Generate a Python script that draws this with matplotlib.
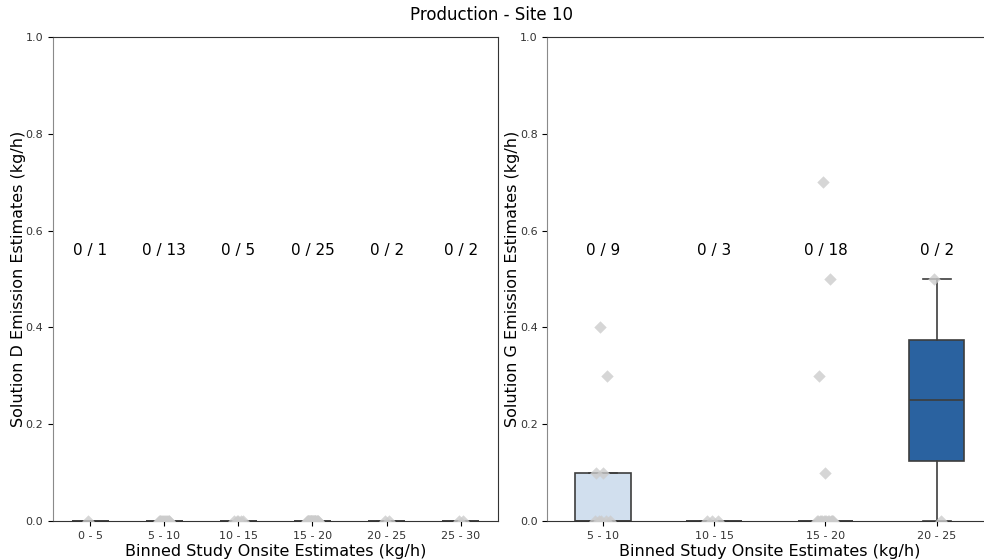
import numpy as np
import matplotlib
matplotlib.use("Agg")
from matplotlib import pyplot as plt

# data
title = "Production - Site 10"
x_label = "Binned Study Onsite Estimates (kg/h)"

d_bins = ["0 - 5", "5 - 10", "10 - 15", "15 - 20", "20 - 25", "25 - 30"]
d_values = [
    [0.0],
    [0.0] * 13,
    [0.0] * 5,
    [0.0] * 25,
    [0.0] * 2,
    [0.0] * 2,
]
d_labels = ["0 / 1", "0 / 13", "0 / 5", "0 / 25", "0 / 2", "0 / 2"]
d_colors = ["#d1dfee", "#b3cde3", "#8fb6d8", "#6a9ac8", "#4a80b8", "#2a62a0"]

g_bins = ["5 - 10", "10 - 15", "15 - 20", "20 - 25"]
g_values = [
    [0.4, 0.3, 0.1, 0.1, 0.0, 0.0, 0.0, 0.0, 0.0],
    [0.0, 0.0, 0.0],
    [0.7, 0.5, 0.3, 0.1] + [0.0] * 14,
    [0.5, 0.0],
]
g_labels = ["0 / 9", "0 / 3", "0 / 18", "0 / 2"]
g_colors = ["#d1dfee", "#9ebfdc", "#5b8cc0", "#2a62a0"]

EDGE = "#3d3d3d"


def draw_panel(ax, bins, values, labels, colors, ylabel):
    pos = np.arange(len(bins))
    bp = ax.boxplot(values, positions=pos, widths=0.5, patch_artist=True,
                    showfliers=False, whis=1.5,
                    boxprops=dict(edgecolor=EDGE, linewidth=1.2),
                    medianprops=dict(color=EDGE, linewidth=1.2),
                    whiskerprops=dict(color=EDGE, linewidth=1.2),
                    capprops=dict(color=EDGE, linewidth=1.2),
                    capwidths=0.25)
    for patch, c in zip(bp["boxes"], colors):
        patch.set_facecolor(c)

    # strip points with a fixed spread
    for i, vals in enumerate(values):
        n = len(vals)
        offs = ((np.arange(n) * 0.382 + 0.35) % 1 - 0.5) * 0.16
        ax.scatter(pos[i] + offs, vals, marker="D", s=40, color="#cccccc",
                   alpha=0.8, linewidths=0, zorder=3)
        ax.text(pos[i], 0.56, labels[i], ha="center", va="center", fontsize=11)

    ax.set_xlim(-0.5, len(bins) - 0.5)
    ax.set_ylim(0, 1.0)
    ax.set_xticks(pos)
    ax.set_xticklabels(bins, fontsize=8, color="#333333")
    ax.set_yticks([0, 0.2, 0.4, 0.6, 0.8, 1.0])
    ax.set_yticklabels(["0.0", "0.2", "0.4", "0.6", "0.8", "1.0"], fontsize=8,
                       color="#333333")
    ax.set_xlabel(x_label, fontsize=11.5, labelpad=2)
    ax.set_ylabel(ylabel, fontsize=11.5, labelpad=0)
    ax.spines["left"].set_color("#8a8a8a")
    for s in ["top", "right", "bottom"]:
        ax.spines[s].set_color("#333333")


fig = plt.figure(figsize=(9.84, 5.6), dpi=100)
ax1 = fig.add_axes([0.0539, 0.0696, 0.452, 0.864])
ax2 = fig.add_axes([0.5564, 0.0696, 0.452, 0.864])

draw_panel(ax1, d_bins, d_values, d_labels, d_colors,
           "Solution D Emission Estimates (kg/h)")
draw_panel(ax2, g_bins, g_values, g_labels, g_colors,
           "Solution G Emission Estimates (kg/h)")

fig.text(0.5, 0.974, title, ha="center", va="center", fontsize=12)

fig.savefig("out.png", dpi=100)
